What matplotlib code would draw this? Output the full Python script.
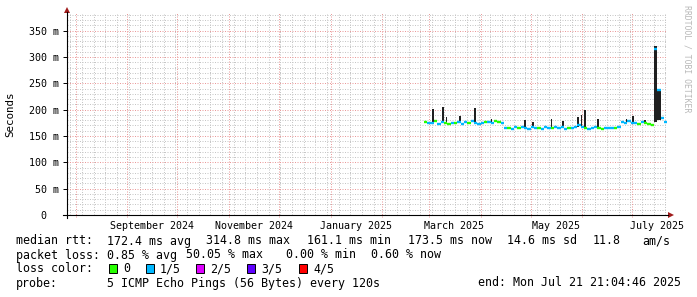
import pandas as pd
import matplotlib
matplotlib.use('Agg')
import matplotlib.pyplot as plt
from matplotlib.patches import Polygon, Rectangle
from matplotlib.lines import Line2D

plt.rcParams['font.family'] = ['DejaVu Sans Mono', 'DejaVu Sans']

W, H = 697, 297

# median rtt in ms, one value every 2 days, and loss level (0 -> 0/5, 1 -> 1/5)
sample_dates = pd.date_range('2025-02-26', periods=73, freq='2D')
median_ms = [177, 175, 174, 178, 173, 176, 174, 173, 175, 174,
             177, 173, 176, 174, 178, 174, 173, 175, 176, 177,
             175, 178, 176, 175, 165, 166, 164, 167, 165, 168,
             166, 164, 167, 165, 166, 164, 167, 165, 166, 168,
             165, 167, 164, 165, 166, 167, 170, 168, 165, 164,
             166, 167, 165, 164, 166, 165, 166, 165, 167, 176,
             175, 178, 174, 175, 173, 177, 175, 172, 170, 315,
             237, 185, 176]
loss_level = [0, 1, 1, 0, 1, 1, 0, 0, 1, 0,
              1, 1, 1, 0, 1, 1, 1, 1, 0, 1,
              1, 0, 0, 1, 1, 0, 1, 1, 0, 1,
              1, 1, 1, 1, 0, 1, 1, 1, 0, 1,
              1, 1, 1, 0, 1, 1, 1, 1, 0, 1,
              1, 1, 0, 0, 1, 1, 1, 0, 1, 1,
              1, 1, 1, 1, 0, 1, 0, 0, 0, 1,
              1, 1, 1]

# smoke (spread of the pings) where it sticks out above the median
spike_dates = pd.to_datetime(['2025-03-03', '2025-03-09', '2025-03-11', '2025-03-19',
                              '2025-03-28', '2025-04-07', '2025-04-27', '2025-05-02',
                              '2025-05-13', '2025-05-20', '2025-05-29', '2025-05-31',
                              '2025-06-02', '2025-06-10', '2025-06-27', '2025-07-01',
                              '2025-07-08', '2025-07-14', '2025-07-16'])
spike_lo = [174, 175, 174, 176, 176, 175, 165, 166, 165, 166, 167, 167,
            165, 166, 175, 174, 174, 176, 180]
spike_hi = [201, 205, 186, 188, 203, 183, 181, 176, 182, 178, 186, 190,
            199, 182, 182, 188, 180, 320, 240]
spike_hours = [28, 28, 28, 28, 28, 28, 28, 28, 28, 28, 28, 28,
               28, 28, 28, 28, 28, 48, 48]

loss_colors = ['#26ff00', '#00b8ff', '#dd00ff', '#5e00ff', '#ff0000']
loss_names = ['0', '1/5', '2/5', '3/5', '4/5']

y_ticks = [0, 50, 100, 150, 200, 250, 300, 350]
y_tick_labels = ['0  ', '50 m', '100 m', '150 m', '200 m', '250 m', '300 m', '350 m']
x_label_dates = pd.to_datetime(['2024-09-16', '2024-11-16', '2025-01-16',
                                '2025-03-16', '2025-05-16', '2025-07-16'])
x_labels = ['September 2024', 'November 2024', 'January 2025',
            'March 2025', 'May 2025', 'July 2025']

t_end = pd.Timestamp('2025-07-21 21:04:46')
t_start = t_end - pd.Timedelta(days=360)


def fx(x):
    return x / W


def fy(y):
    return 1 - y / H


fig = plt.figure(figsize=(W / 100, H / 100), dpi=100)
fig.patch.set_facecolor('white')
ax = fig.add_axes([fx(67), fy(215), 600 / W, 202 / H])
ax.set_facecolor('white')
ax.set_xlim(t_start, t_end)
ax.set_ylim(0, 383.5)
for s in ax.spines.values():
    s.set_visible(False)

# grid, dotted and faint
dots = (0, (1, 1.5))
minor_c = '#c6c6c6'
major_c = '#ea9a9a'
for d in pd.date_range(t_start, t_end, freq='W-SUN'):
    ax.axvline(d, color=minor_c, lw=0.72, ls=dots, zorder=0)
for v in range(10, 384, 10):
    if v % 50:
        ax.axhline(v, color=minor_c, lw=0.72, ls=dots, zorder=0)
for d in pd.date_range('2024-08-01', t_end, freq='MS'):
    ax.axvline(d, ymin=-0.012, color=major_c, lw=0.72, ls=dots, zorder=1, clip_on=False)
for v in y_ticks[1:]:
    ax.axhline(v, color=major_c, lw=0.72, ls=dots, zorder=1)

# smoke
ax.bar(spike_dates, [h - l for h, l in zip(spike_hi, spike_lo)], bottom=spike_lo,
       width=[pd.Timedelta(hours=h) for h in spike_hours], align='edge',
       color='#202020', linewidth=0, zorder=2)

# median coloured by loss, drawn as short flat pieces like smokeping does
n = len(median_ms)
for i in range(n):
    x0 = sample_dates[i]
    x1 = sample_dates[i + 1] if i + 1 < n else t_end
    ax.plot([x0, x1], [median_ms[i], median_ms[i]], color=loss_colors[loss_level[i]],
            lw=1.7, solid_capstyle='butt', zorder=3)

# ticks and labels
ax.set_yticks(y_ticks)
ax.set_yticklabels(y_tick_labels)
ax.tick_params(axis='y', length=3, width=0.7, pad=2.5, labelsize=7.2, color='black')
ax.set_xticks(x_label_dates)
ax.set_xticklabels(x_labels)
ax.tick_params(axis='x', length=0, pad=4, labelsize=7.2)
fig.text(fx(10), fy(114), 'Seconds', rotation=90, ha='center', va='center', fontsize=7.8)

# axes with arrows
fig.add_artist(Line2D([fx(67), fx(67)], [fy(218), fy(12)], color='black', lw=0.8))
fig.add_artist(Line2D([fx(63), fx(668)], [fy(215), fy(215)], color='black', lw=0.8))
arrow_c = '#a01c1c'
fig.add_artist(Polygon([(fx(64), fy(13)), (fx(70), fy(13)), (fx(67), fy(7))],
                       closed=True, color=arrow_c, lw=0))
fig.add_artist(Polygon([(fx(668), fy(212)), (fx(668), fy(218)), (fx(674), fy(215))],
                       closed=True, color=arrow_c, lw=0))

# watermark
fig.text(fx(687), fy(5), 'RRDTOOL / TOBI OETIKER', rotation=270, ha='center', va='top',
         fontsize=5.9, color='#b8b8b8')

# legend rows
fs = 8.4
row1 = [(16, 'median rtt:'), (107, '172.4 ms avg'), (206, '314.8 ms max'),
        (307, '161.1 ms min'), (408, '173.5 ms now'), (507, '14.6 ms sd'),
        (593, '11.8'), (642, 'am/s')]
for x, t in row1:
    fig.text(fx(x), fy(241), t, fontsize=fs, va='center', ha='left')
row2 = [(16, 'packet loss:'), (107, '0.85 % avg'), (186, '50.05 % max'),
        (286, '0.00 % min'), (371, '0.60 % now')]
for x, t in row2:
    fig.text(fx(x), fy(255), t, fontsize=fs, va='center', ha='left')
fig.text(fx(16), fy(269), 'loss color:', fontsize=fs, va='center', ha='left')
box_x = [109, 146, 196, 247, 299]
for bx, c, name in zip(box_x, loss_colors, loss_names):
    fig.add_artist(Rectangle((fx(bx), fy(273)), 8 / W, 9 / H, facecolor=c,
                             edgecolor='black', lw=0.7))
    fig.text(fx(bx + 14), fy(269), name, fontsize=fs, va='center', ha='left')
fig.text(fx(16), fy(283), 'probe:', fontsize=fs, va='center', ha='left')
fig.text(fx(107), fy(283), '5 ICMP Echo Pings (56 Bytes) every 120s', fontsize=fs,
         va='center', ha='left')
fig.text(fx(681), fy(283), 'end: Mon Jul 21 21:04:46 2025', fontsize=fs,
         va='center', ha='right')

fig.savefig('out.png', dpi=100)
